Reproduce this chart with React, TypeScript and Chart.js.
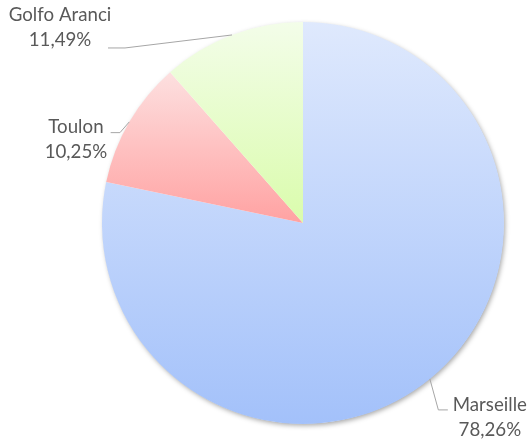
import React, { useEffect, useRef } from 'react';
import { Chart, registerables } from 'chart.js';

Chart.register(...registerables);

const categories = ['Marseille', 'Toulon', 'Golfo Aranci'];
const values = [78.26, 10.25, 11.49];
const percentLabels = ['78,26%', '10,25%', '11,49%'];

const topColors = ['#dfe9fd', '#fde0e0', '#f3fde9'];
const bottomColors = ['#a3c1fa', '#ffa2a2', '#dafcac'];

// label layout offsets relative to the slice's outer-edge midpoint
const labelLayout = [
  { elbow: [8.5, 31], end: [18, 31], text: [60, 26] },
  { elbow: [-9.3, 10.7], end: [-18.6, 10.7], text: [-53.3, 5] },
  { elbow: [-107, 13], end: [-124, 13], text: [-172, -20] },
];

const FONT = '18.7px Lato, "Noto Sans", sans-serif';
const TEXT_COLOR = '#595959';
const LINE_COLOR = '#a6a6a6';

function sliceGradient(ctx: any) {
  const i = ctx.dataIndex;
  const chart = ctx.chart;
  const ca = chart.chartArea;
  if (!ca || i === undefined) return topColors[i ?? 0];
  const cx = (ca.left + ca.right) / 2;
  const cy = (ca.top + ca.bottom) / 2;
  const r = Math.min(ca.right - ca.left, ca.bottom - ca.top) / 2;
  const total = values.reduce((a, b) => a + b, 0);
  let before = 0;
  for (let k = 0; k < i; k++) before += values[k];
  const a0 = -Math.PI / 2 + (2 * Math.PI * before) / total;
  const a1 = a0 + (2 * Math.PI * values[i]) / total;
  const ys = [cy, cy + r * Math.sin(a0), cy + r * Math.sin(a1)];
  for (let m = -2; m <= 6; m++) {
    const a = (m * Math.PI) / 2;
    if (a > a0 && a < a1 && (m % 2 !== 0)) ys.push(cy + r * Math.sin(a));
  }
  const minY = Math.min(...ys);
  const maxY = Math.max(...ys);
  const g = chart.ctx.createLinearGradient(0, minY, 0, maxY);
  g.addColorStop(0, topColors[i]);
  g.addColorStop(1, bottomColors[i]);
  return g;
}

const shadowPlugin = {
  id: 'pieShadow',
  beforeDatasetsDraw(chart: any) {
    const meta = chart.getDatasetMeta(0);
    const arc = meta.data[0];
    if (!arc) return;
    const c = chart.ctx;
    c.save();
    c.shadowColor = 'rgba(0,0,0,0.35)';
    c.shadowBlur = 5;
    c.shadowOffsetX = 1.5;
    c.shadowOffsetY = 2;
    c.fillStyle = '#ffffff';
    c.beginPath();
    c.arc(arc.x, arc.y, arc.outerRadius - 0.5, 0, Math.PI * 2);
    c.fill();
    c.restore();
  },
};

const labelPlugin = {
  id: 'pieLabels',
  afterDatasetsDraw(chart: any) {
    const meta = chart.getDatasetMeta(0);
    const c = chart.ctx;
    c.save();
    meta.data.forEach((arc: any, i: number) => {
      const mid = (arc.startAngle + arc.endAngle) / 2;
      const ex = arc.x + arc.outerRadius * Math.cos(mid);
      const ey = arc.y + arc.outerRadius * Math.sin(mid);
      const L = labelLayout[i];
      c.strokeStyle = LINE_COLOR;
      c.lineWidth = 1;
      c.beginPath();
      c.moveTo(ex, ey);
      c.lineTo(ex + L.elbow[0], ey + L.elbow[1]);
      c.lineTo(ex + L.end[0], ey + L.end[1]);
      c.stroke();
      c.fillStyle = TEXT_COLOR;
      c.font = FONT;
      c.textAlign = 'center';
      c.textBaseline = 'middle';
      const tx = ex + L.text[0];
      const ty = ey + L.text[1];
      c.fillText(categories[i], tx, ty);
      c.fillText(percentLabels[i], tx, ty + 25);
    });
    c.restore();
  },
};

export default function App() {
  const ref = useRef<HTMLCanvasElement>(null);
  useEffect(() => {
    if (!ref.current) return;
    const chart = new Chart(ref.current, {
      type: 'pie',
      data: {
        labels: categories,
        datasets: [
          {
            data: values,
            backgroundColor: sliceGradient as any,
            borderWidth: 0,
          },
        ],
      },
      options: {
        responsive: false,
        animation: false,
        layout: { padding: { left: 101, right: 23, top: 22, bottom: 21 } },
        plugins: {
          legend: { display: false },
          tooltip: { enabled: false },
        },
      },
      plugins: [shadowPlugin, labelPlugin],
    });
    return () => chart.destroy();
  }, []);
  return (
    <div style={{ position: 'absolute', left: 0, top: 0, width: 528, height: 445, background: '#fff' }}>
      <canvas ref={ref} width={528} height={445} style={{ display: 'block' }} />
    </div>
  );
}
